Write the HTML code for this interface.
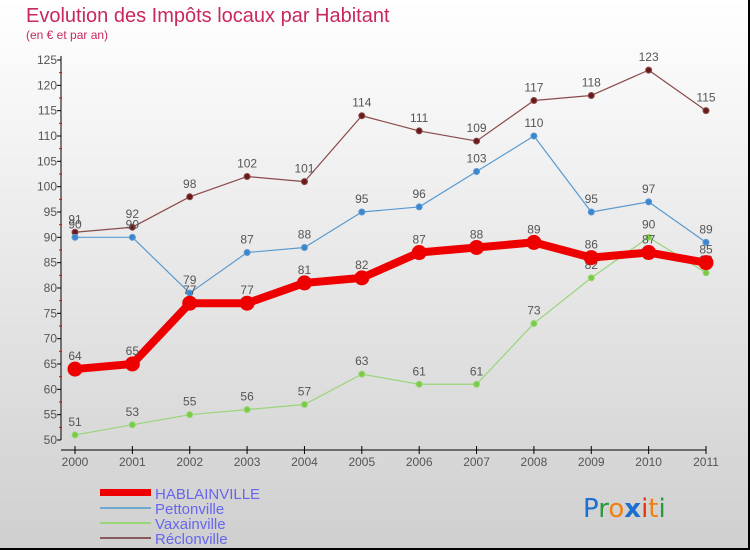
<!DOCTYPE html>
<html><head><meta charset="utf-8"><style>
body{margin:0;}
#wrap{position:relative;width:750px;height:550px;overflow:hidden;font-family:"Liberation Sans",sans-serif;}
</style></head><body>
<div id="wrap">
<svg id="svg" width="750" height="550" xmlns="http://www.w3.org/2000/svg">
<defs>
<linearGradient id="bg" x1="0" y1="0" x2="0" y2="1"><stop offset="0" stop-color="#ffffff"/><stop offset="1" stop-color="#cfcfcf"/></linearGradient>
</defs>
<rect x="0" y="0" width="750" height="550" fill="url(#bg)"/>
<line x1="749" y1="0" x2="749" y2="550" stroke="#000" stroke-width="2"/>
<line x1="0" y1="549" x2="750" y2="549" stroke="#000" stroke-width="2"/>
<text x="26" y="22" font-size="20" fill="#c8285a">Evolution des Impôts locaux par Habitant</text>
<text x="26" y="39" font-size="12" fill="#c8285a">(en € et par an)</text>
<g id="axes"></g>
<g id="series"></g>
<g id="legend">
<rect x="100" y="489" width="51" height="7" fill="#e00"/>
<text x="155" y="499" font-size="15" fill="#6666ee">HABLAINVILLE</text>
<line x1="100" y1="508" x2="151" y2="508" stroke="#6fa8d0" stroke-width="2"/>
<text x="155" y="514" font-size="15" fill="#6666ee">Pettonville</text>
<line x1="100" y1="523" x2="151" y2="523" stroke="#99d577" stroke-width="2"/>
<text x="155" y="529" font-size="15" fill="#6666ee">Vaxainville</text>
<line x1="100" y1="538" x2="151" y2="538" stroke="#8a5a5a" stroke-width="2"/>
<text x="155" y="544" font-size="15" fill="#6666ee">Réclonville</text>
</g>
<g font-size="26" font-family="DejaVu Sans, sans-serif">
<text x="583" y="517"><tspan fill="#1a6fd0">P</tspan><tspan fill="#2a9a3a">r</tspan><tspan fill="#f08010">o</tspan><tspan fill="#1a6fd0" font-weight="bold">x</tspan><tspan fill="#e83010">i</tspan><tspan fill="#f08010">t</tspan><tspan fill="#2a9a3a">i</tspan></text>
</g>
</svg>
</div>
<script>
const years=[2000,2001,2002,2003,2004,2005,2006,2007,2008,2009,2010,2011];
const hablainville=[64,65,77,77,81,82,87,88,89,86,87,85];
const pettonville=[90,90,79,87,88,95,96,103,110,95,97,89];
const vaxainville=[51,53,55,56,57,63,61,61,73,82,90,83];
const reclonville=[91,92,98,102,101,114,111,109,117,118,123,115];
const yTicks=[50,55,60,65,70,75,80,85,90,95,100,105,110,115,120,125];
const NS="http://www.w3.org/2000/svg";
function X(i){return 75+i*(706-75)/11;}
function Y(v){return 440-(v-50)*(380/75);}
function mk(tag,attrs,parent){const e=document.createElementNS(NS,tag);for(const k in attrs)e.setAttribute(k,attrs[k]);parent.appendChild(e);return e;}
const axes=document.getElementById('axes');
let yl=mk('line',{x1:61,y1:Y(125)-4,x2:61,y2:Y(50),stroke:'#000','stroke-width':1},axes);


let xl=mk('line',{x1:61,y1:450,x2:706,y2:450,stroke:'#000','stroke-width':1},axes);


yTicks.forEach(v=>{
 const t=mk('line',{x1:57,y1:Y(v),x2:61,y2:Y(v),stroke:'#000'},axes);
 
 
 if(v<125){const m=mk('line',{x1:59,y1:Y(v+2.5),x2:62,y2:Y(v+2.5),stroke:'#e00'},axes);
 
 }
 const l=mk('text',{x:57,y:Y(v)+4,'text-anchor':'end','font-size':12,fill:'#555'},axes);
 l.textContent=v;
 
 
});
years.forEach((yr,i)=>{
 const t=mk('line',{x1:X(i),y1:446,x2:X(i),y2:454,stroke:'#000'},axes);
 
 
 const l=mk('text',{x:X(i),y:466,'text-anchor':'middle','font-size':12,fill:'#555'},axes);
 l.textContent=yr;
 
 
});
const ser=document.getElementById('series');
function draw(name,data,color,w,r,dot){
 const g=mk('g',{},ser);
 
 
 const pts=data.map((v,i)=>X(i)+','+Y(v)).join(' ');
 const pl=mk('polyline',{points:pts,fill:'none',stroke:color,'stroke-width':w,'stroke-linejoin':'round'},g);
 
 
 data.forEach((v,i)=>{
  const c=mk('circle',{cx:X(i),cy:Y(v),r:r,fill:dot,stroke:color,'stroke-width':1},g);
  
  
  const t=mk('text',{x:X(i),y:Y(v)-9,'text-anchor':'middle','font-size':12,fill:'#555'},g);
  t.textContent=v;
  
  
 });
}
draw('reclonville',reclonville,'#8a4a4a',1.2,3,'#6a1a1a');
draw('pettonville',pettonville,'#5a9ad0',1.2,3,'#3a86d0');
draw('vaxainville',vaxainville,'#99d577',1.2,3,'#77cc44');
draw('hablainville',hablainville,'#ee0000',8,7,'#ee0000');
</script>
</body></html>
